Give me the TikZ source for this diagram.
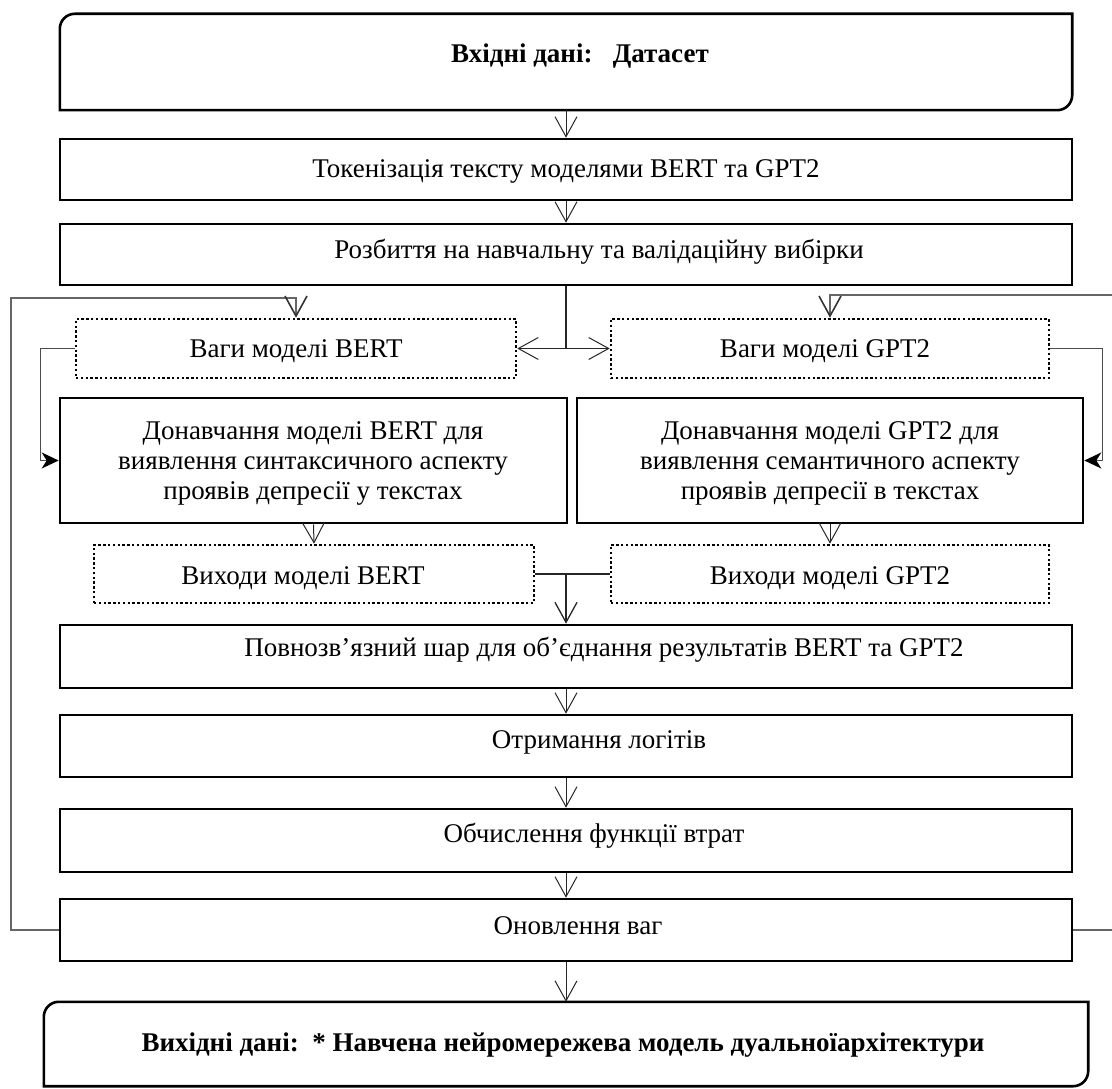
\documentclass[tikz,border=0pt]{standalone}
\usepackage{fontspec}
\setmainfont{Liberation Serif}
\usetikzlibrary{arrows.meta}
\begin{document}
\begin{tikzpicture}[x=1pt,y=-1pt,
  box/.style={draw=black, line width=2.6pt, inner sep=0pt},
  plainbox/.style={draw=none, inner sep=0pt},
  dbox/.style={draw=black, line width=2.6pt, dash pattern=on 2.4pt off 2.4pt, inner sep=0pt},
  txt/.style={font=\fontsize{27}{30}\selectfont, inner sep=0pt, align=center},
  btxt/.style={font=\fontsize{27}{30}\selectfont\bfseries, inner sep=0pt},
  vee/.style={-{Straight Barb[length=20pt,width=22pt]}, line width=1pt, draw=black!85},
  stl/.style={-{Stealth[length=17pt,width=16pt,inset=5pt,color=black,fill=black]}, line width=1.4pt, draw=black!70},
  conn/.style={line width=1.1pt, draw=black!85},
  fbline/.style={-{Straight Barb[length=20pt,width=22pt,color=black!80]}, line width=1.6pt, draw=black!60}]
\useasboundingbox (0,0) rectangle (1112,1089);

% boxes
\node[plainbox, minimum width=1012pt, minimum height=96pt] (top) at (566,62) {};
\draw[line width=2.6pt] (top.south west) -- ([yshift=-15pt]top.north west)
  arc[start angle=180,end angle=90,radius=15pt] -- (top.north east)
  -- ([yshift=15pt]top.south east) arc[start angle=0,end angle=-90,radius=15pt] -- cycle;
\node[box, minimum width=1012pt, minimum height=61pt] (tok) at (566,169.5) {};
\node[box, minimum width=1012pt, minimum height=61pt] (split3) at (566,254.5) {};
\node[dbox, minimum width=440pt, minimum height=59pt] (wB) at (296,348.5) {};
\node[dbox, minimum width=438pt, minimum height=59pt] (wG) at (830,348.5) {};
\node[box, minimum width=507pt, minimum height=125pt] (fB) at (313.5,460.5) {};
\node[box, minimum width=506pt, minimum height=125pt] (fG) at (830,460.5) {};
\node[dbox, minimum width=440pt, minimum height=58pt] (oB) at (314,574) {};
\node[dbox, minimum width=438pt, minimum height=58pt] (oG) at (830,574) {};
\node[box, minimum width=1012pt, minimum height=63pt] (dense) at (566,656.5) {};
\node[box, minimum width=1012pt, minimum height=62pt] (logit) at (566,746) {};
\node[box, minimum width=1012pt, minimum height=63pt] (loss) at (566,840.5) {};
\node[box, minimum width=1012pt, minimum height=62pt] (upd) at (566,930) {};
\node[plainbox, minimum width=1044pt, minimum height=84pt] (out) at (566,1044) {};
\draw[line width=2.6pt] (out.south west) -- ([yshift=-15pt]out.north west)
  arc[start angle=180,end angle=90,radius=15pt] -- (out.north east)
  -- ([yshift=15pt]out.south east) arc[start angle=0,end angle=-90,radius=15pt] -- cycle;

% texts
\node[btxt] (t1) at (580,56) {Вхідні дані:\ \ \ Датасет};
\node[txt] (t2) at (566,171) {Токенізація тексту моделями BERT та GPT2};
\node[txt] (t3) at (599,252) {Розбиття на навчальну та валідаційну вибірки};
\node[txt] (t4) at (296,351) {Ваги моделі BERT};
\node[txt] (t5) at (825,351) {Ваги моделі GPT2};
\node[txt] (t6) at (313,463) {Донавчання моделі BERT для\\виявлення синтаксичного аспекту\\проявів депресії у текстах};
\node[txt] (t7) at (830,463) {Донавчання моделі GPT2 для\\виявлення семантичного аспекту\\проявів депресії в текстах};
\node[txt] (t8) at (303,578) {Виходи моделі BERT};
\node[txt] (t9) at (830,578) {Виходи моделі GPT2};
\node[txt] (t10) at (604,650) {Повнозв’язний шар для об’єднання результатів BERT та GPT2};
\node[txt] (t11) at (599,742) {Отримання логітів};
\node[txt] (t12) at (594,836) {Обчислення функції втрат};
\node[txt] (t13) at (578,926) {Оновлення ваг};
\node[btxt] (t14) at (563,1045) {Вихідні дані:\ \ * Навчена нейромережева модель дуальноїархітектури};

% main connectors
\draw[vee] (top.south) -- (tok.north);
\draw[vee] (tok.south) -- (split3.north);
\draw[conn] (split3.south) -- (split3.south |- wB.east) coordinate (sp);
\draw[vee] (sp) -- (wB.east);
\draw[vee] (sp) -- (wG.west);
\draw[stl] (wB.west) -- ++(-34,0) |- (fB.west);
\draw[stl] (wG.east) -- ++(52,0) |- (fG.east);
\draw[vee] (fB.south) -- (oB.north);
\draw[vee] (fG.south) -- (oG.north);
\draw[conn] (oB.east) -- (oG.west);
\draw[vee, line width=1.3pt] (oB.east -| dense.north) -- (dense.north);
\draw[vee] (dense.south) -- (logit.north);
\draw[vee] (logit.south) -- (loss.north);
\draw[vee] (loss.south) -- (upd.north);
\draw[vee] (upd.south) -- (out.north);

% feedback
\coordinate (fbL) at (11,298);
\coordinate (fbR) at (1116,295);
\draw[fbline] (upd.west) -| (fbL) -| (wB.north);
\draw[fbline] (upd.east) -| (fbR) -| (wG.north);
\end{tikzpicture}
\end{document}
